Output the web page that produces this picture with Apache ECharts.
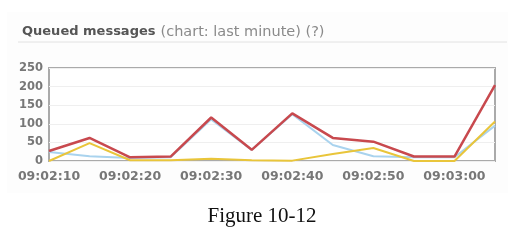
<!DOCTYPE html>
<html><head><meta charset="utf-8">
<script src="https://cdn.jsdelivr.net/npm/echarts@6/dist/echarts.min.js"></script>
<style>html,body{margin:0;padding:0;background:#fff}#c{width:524px;height:251px}</style>
</head><body><div id="c"></div>
<script>
var categories = ['09:02:10','09:02:15','09:02:20','09:02:25','09:02:30','09:02:35','09:02:40','09:02:45','09:02:50','09:02:55','09:03:00','09:03:05'];
var redValues = [27, 62, 10, 12, 117, 30, 128, 62, 52, 12, 12, 204];
var yellowValues = [0, 48, 2, 2, 6, 2, 1, 19, 35, 0, 0, 106];
var blueValues = [24, 13, 8, 10, 112, 30, 126, 43, 13, 10, 10, 95];
var yTicks = [0, 50, 100, 150, 200, 250];

var chart = echarts.init(document.getElementById('c'));
chart.setOption({
  animation: false,
  backgroundColor: '#fff',
  graphic: [
    {type: 'rect', shape: {x: 7, y: 12, width: 501, height: 181}, style: {fill: '#fdfdfd'}, z: -10},
    {type: 'line', shape: {x1: 18, y1: 42, x2: 507, y2: 42}, style: {stroke: '#e2e2e2', lineWidth: 1}},
    {type: 'text', left: 'center', top: 206, style: {text: 'Figure 10-12', font: '21px "Liberation Serif", serif', fill: '#111'}}
  ],
  title: {
    left: 17, top: 18,
    text: '{a|Queued messages} {b|(chart: last minute) (?)}',
    textStyle: {
      rich: {
        a: {fontSize: 13, fontWeight: 'bold', color: '#555', fontFamily: 'DejaVu Sans'},
        b: {fontSize: 14.5, fontWeight: 'normal', color: '#8a8a8a', fontFamily: 'DejaVu Sans'}
      }
    }
  },
  grid: {left: 49, right: 29, top: 68, bottom: 90, show: true, borderColor: '#aaa', borderWidth: 2, backgroundColor: '#fff'},
  xAxis: {
    type: 'category', data: categories, boundaryGap: false,
    axisLine: {show: false}, axisTick: {show: false},
    axisLabel: {interval: 1, color: '#777', fontWeight: 'bold', fontSize: 12.5, fontFamily: 'DejaVu Sans', margin: 9},
    splitLine: {show: false}
  },
  yAxis: {
    type: 'value', min: yTicks[0], max: yTicks[yTicks.length-1], interval: 50,
    axisLine: {show: false}, axisTick: {show: false},
    axisLabel: {color: '#777', fontWeight: 'bold', fontSize: 11.5, fontFamily: 'DejaVu Sans', margin: 6},
    splitLine: {lineStyle: {color: '#efefef', width: 1}}
  },
  series: [
    {type: 'line', data: blueValues, symbol: 'none', lineStyle: {color: '#a9d3ee', width: 2}, z: 2},
    {type: 'line', data: yellowValues, symbol: 'none', lineStyle: {color: '#e9c53a', width: 2}, z: 3},
    {type: 'line', data: redValues, symbol: 'none', lineStyle: {color: '#c8494e', width: 2.5}, z: 4}
  ]
});
</script></body></html>
